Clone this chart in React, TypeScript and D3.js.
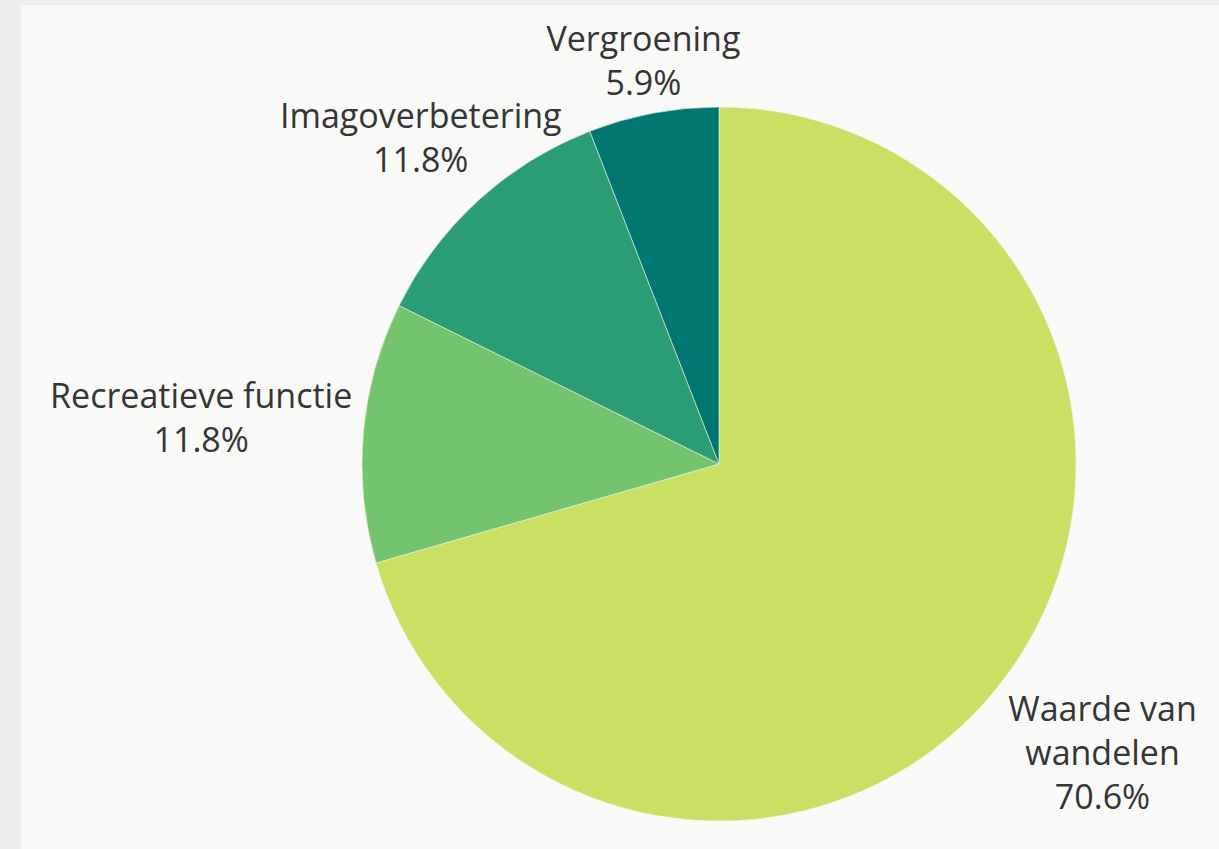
import React from "react";
import * as d3 from "d3";

const categories = ["Waarde van wandelen", "Recreatieve functie", "Imagoverbetering", "Vergroening"];
const labelLines = [["Waarde van", "wandelen"], ["Recreatieve functie"], ["Imagoverbetering"], ["Vergroening"]];
const values = [70.6, 11.8, 11.8, 5.9];
const colors = ["#c9e063", "#74c36e", "#2a9d76", "#007670"];

const W = 1219;
const H = 849;
const CX = 719;
const CY = 464;
const R = 357;
const FONT = "'Open Sans', sans-serif";
const FS = 34;
const LH = 44;
const GAP = 14;

let ctx: CanvasRenderingContext2D | null = null;
function measure(t: string): number {
  if (!ctx) {
    const c = document.createElement("canvas");
    ctx = c.getContext("2d");
  }
  if (!ctx) return t.length * FS * 0.55;
  ctx.font = `${FS}px 'Open Sans'`;
  return ctx.measureText(t).width;
}

function placeLabel(mid: number, lines: string[]) {
  const ux = Math.sin(mid);
  const uy = -Math.cos(mid);
  const widths = lines.map(measure);
  const n = lines.length;
  const capH = FS * 0.72;
  const minDist = (d: number) => {
    const cx = ux * d;
    const cy = uy * d;
    const top = cy - ((n - 1) * LH) / 2 - capH / 2;
    let best = Infinity;
    widths.forEach((w, i) => {
      const y0 = top + i * LH;
      const y1 = y0 + capH;
      const x0 = cx - w / 2;
      const x1 = cx + w / 2;
      const dx = Math.max(x0, -x1, 0);
      const dy = Math.max(y0, -y1, 0);
      best = Math.min(best, Math.hypot(dx, dy));
    });
    return best;
  };
  let lo = R * 0.5;
  let hi = R * 3;
  for (let k = 0; k < 60; k++) {
    const m = (lo + hi) / 2;
    if (minDist(m) < R + GAP) lo = m;
    else hi = m;
  }
  const d = hi;
  return { x: CX + ux * d, y: CY + uy * d, n };
}

export default function App() {
  const data = categories.map((c, i) => ({
    name: c,
    value: values[i],
    color: colors[i],
    lines: [...labelLines[i], `${values[i].toFixed(1)}%`],
  }));
  const pie = d3.pie<any>().value((d) => d.value).sort(null);
  const arcs = pie(data);
  const arc = d3.arc<any>().innerRadius(0).outerRadius(R);

  return (
    <svg
      width={W}
      height={H}
      style={{ position: "absolute", left: 0, top: 0, display: "block" }}
    >
      <rect x={0} y={0} width={W} height={H} fill="#eeeeee" />
      <rect x={21} y={5} width={W - 21} height={H - 5} fill="#f9f9f8" />
      <g transform={`translate(${CX},${CY})`}>
        {arcs.map((a, i) => (
          <path key={i} d={arc(a) || ""} fill={a.data.color} stroke="#eef4e4" strokeWidth={0.6} />
        ))}
      </g>
      {arcs.map((a, i) => {
        const mid = (a.startAngle + a.endAngle) / 2;
        const p = placeLabel(mid, a.data.lines);
        const capH = FS * 0.72;
        const firstBase = p.y - ((p.n - 1) * LH) / 2 + capH / 2;
        return (
          <text
            key={i}
            x={p.x}
            y={firstBase}
            textAnchor="middle"
            fontFamily={FONT}
            fontSize={FS}
            fill="#353535"
          >
            {a.data.lines.map((l: string, j: number) => (
              <tspan key={j} x={p.x} y={firstBase + j * LH}>
                {l}
              </tspan>
            ))}
          </text>
        );
      })}
    </svg>
  );
}
